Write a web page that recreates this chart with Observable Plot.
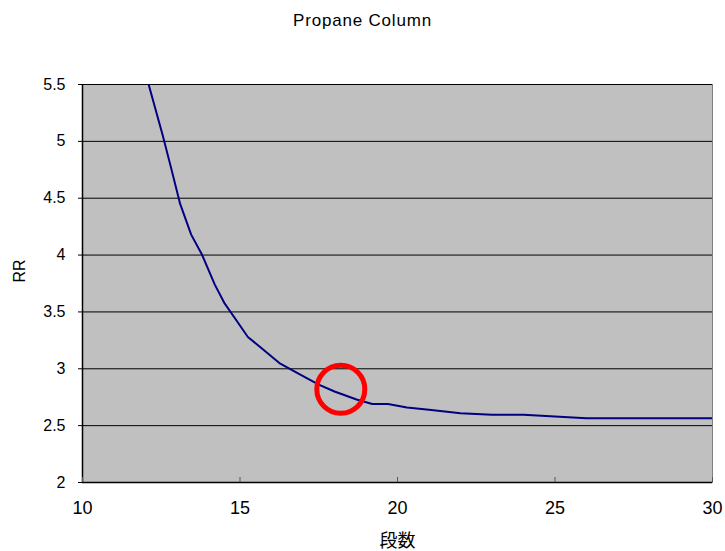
<!DOCTYPE html>
<html>
<head>
<meta charset="utf-8">
<script src="https://cdn.jsdelivr.net/npm/d3@7"></script>
<script src="https://cdn.jsdelivr.net/npm/@observablehq/plot@0.6"></script>
<style>
  html, body { margin: 0; padding: 0; background: #fff; }
  #title {
    width: 725px; height: 40px; line-height: 42px; text-align: center;
    font-family: "Liberation Sans", Arial, sans-serif; font-size: 17px;
    letter-spacing: 0.8px; color: #000;
  }
</style>
</head>
<body>
<div id="title">Propane Column</div>
<div id="chart"></div>
<script>
// Minimum reflux ratio vs. number of stages for the propane column
const stages = [12.1, 12.55, 12.8, 13.1, 13.45, 13.8, 14.2, 14.5, 14.9, 15.25, 15.6, 16.25, 16.9, 17.5, 18.0, 18.7, 19.2, 19.7, 20.3, 21.0, 22.0, 23.0, 24.0, 25.0, 26.0, 30.0];
const refluxRatio = [5.5, 5.05, 4.78, 4.45, 4.18, 4.0, 3.74, 3.58, 3.42, 3.28, 3.2, 3.05, 2.95, 2.86, 2.8, 2.73, 2.69, 2.69, 2.66, 2.64, 2.61, 2.595, 2.595, 2.58, 2.565, 2.565];

// Highlighted operating point
const pickStage = [18.2];
const pickRR = [2.82];

const xTicks = [10, 15, 20, 25, 30];
const yTicks = [2, 2.5, 3, 3.5, 4, 4.5, 5, 5.5];
const xTitle = "段数";
const yTitle = "RR";

const curve = stages.map((n, i) => ({n, rr: refluxRatio[i]}));
const pick = pickStage.map((n, i) => ({n, rr: pickRR[i]}));

const font = '"Liberation Sans", Arial, sans-serif';

const chart = Plot.plot({
  width: 725,
  height: 511,
  marginLeft: 82,
  marginRight: 13,
  marginTop: 44,
  marginBottom: 69,
  style: {fontFamily: font, fontSize: "16px", background: "#fff", color: "#000", overflow: "visible"},
  x: {domain: [10, 30], label: null},
  y: {domain: [2, 5.5], label: null},
  marks: [
    Plot.frame({fill: "#c0c0c0", stroke: "#808080"}),
    Plot.ruleY(yTicks, {stroke: "#000", strokeWidth: 1}),
    Plot.ruleX([10], {stroke: "#000", strokeWidth: 1.5}),
    Plot.ruleY([2], {stroke: "#000", strokeWidth: 1.5}),
    Plot.axisY({ticks: yTicks, tickSize: 4, tickPadding: 13, tickFormat: d => String(d), stroke: "#000", fontSize: 16, label: null}),
    Plot.axisX({ticks: xTicks, tickSize: -5, tickFormat: () => "", stroke: "#555", label: null}),
    Plot.axisX({ticks: xTicks, tickSize: 0, tickPadding: 19, tickFormat: d => String(d), fontSize: 18, label: null}),
    Plot.line(curve, {x: "n", y: "rr", stroke: "#000080", strokeWidth: 2, clip: true}),
    Plot.dot(pick, {x: "n", y: "rr", r: 24, stroke: "#ff0000", strokeWidth: 5, fill: "none"}),
    Plot.text([yTitle], {frameAnchor: "left", dx: -63, dy: -1, rotate: -90, fontSize: 16, fontFamily: font}),
    Plot.text([xTitle], {frameAnchor: "bottom", dy: 64, fontSize: 18, fontFamily: '"Noto Sans CJK JP", sans-serif'})
  ]
});
document.getElementById("chart").appendChild(chart);
</script>
</body>
</html>
